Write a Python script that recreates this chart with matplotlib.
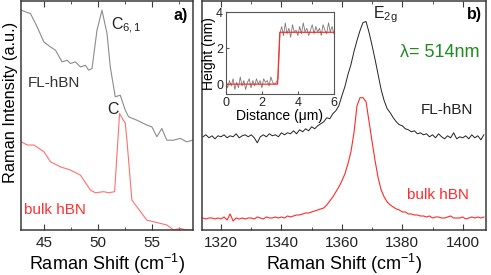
import numpy as np
import matplotlib
matplotlib.use('Agg')
from matplotlib import pyplot as plt
from matplotlib.ticker import MultipleLocator

plt.rcParams['font.family'] = ['Liberation Sans', 'DejaVu Sans']
plt.rcParams['mathtext.fontset'] = 'custom'
plt.rcParams['mathtext.rm'] = 'Liberation Sans'
plt.rcParams['mathtext.it'] = 'Liberation Sans'
plt.rcParams['mathtext.default'] = 'regular'

# ---- panel a) low-frequency shear modes ----
shear_x = [42.91, 43.77, 44.39, 45.0, 45.62, 46.08, 46.69, 47.16, 47.46, 47.92,
           48.39, 48.85, 49.15, 49.46, 49.92, 50.38, 50.85, 51.15, 51.61, 52.07,
           52.54, 52.84, 53.61, 54.53, 55.0, 55.46, 55.92, 56.38, 57.0, 57.62,
           58.23, 58.78]
shear_fl = [95.7, 94.2, 88.4, 81.9, 79.7, 78.3, 73.2, 73.9, 72.5, 73.2,
            71.0, 71.7, 69.6, 70.3, 87.0, 95.7, 85.5, 71.0, 58.0, 58.7,
            52.2, 49.3, 47.8, 45.7, 44.9, 40.6, 44.2, 39.1, 39.1, 39.9,
            38.4, 39.1]
shear_bulk_x = [42.91, 43.47, 44.08, 45.0, 45.62, 46.54, 47.46, 48.39, 49.31, 49.77,
                50.54, 51.0, 51.55, 52.01, 52.54, 52.69, 53.15, 53.61, 54.53, 55.15,
                55.77, 56.38, 57.0, 57.62, 58.23, 58.78]
shear_bulk = [38.4, 37.0, 37.0, 34.1, 29.7, 27.5, 26.1, 23.9, 17.4, 16.2,
              16.7, 16.2, 16.7, 50.7, 46.4, 39.1, 13.0, 10.1, 4.3, 3.6,
              2.9, 2.2, 0.0, 0.7, 0.0, 0.0]

# ---- panel b) E2g mode ----
e2g_x = np.arange(1314, 1408)
e2g_fl = [93, 95, 92, 94, 91, 94, 93, 95, 92, 94,
          93, 96, 92, 94, 95, 93, 95, 92, 87, 93,
          95, 93, 96, 94, 95, 93, 97, 95, 97, 96,
          99, 96, 100, 98, 101, 99, 103, 101, 104, 106,
          108, 112, 111, 116, 119, 124, 134, 143, 155, 165,
          178, 189, 199, 207, 208, 197, 184, 170, 155, 140,
          129, 121, 117, 112, 108, 105, 104, 101, 100, 98,
          99, 96, 97, 95, 96, 93, 95, 92, 96, 93,
          91, 94, 92, 97, 91, 93, 92, 94, 91, 95,
          92, 94, 90, 95]
e2g_bulk = [12, 11, 12, 12, 11, 12, 11, 13, 10, 16,
            9, 12, 11, 12, 11, 12, 12, 11, 13, 12,
            11, 13, 12, 12, 13, 12, 13, 12, 14, 13,
            14, 15, 15, 16, 17, 17, 18, 19, 20, 21,
            22, 25, 29, 33, 38, 43, 49, 56, 66, 78,
            97, 124, 132, 132, 128, 108, 88, 69, 52, 40,
            33, 28, 25, 23, 21, 20, 18, 18, 16, 16,
            15, 15, 14, 14, 13, 14, 12, 13, 13, 12,
            12, 13, 14, 12, 12, 12, 13, 11, 12, 13,
            12, 13, 12, 13]

# ---- inset: AFM height profile ----
afm_x = np.round(np.arange(0, 6.01, 0.1), 2)
afm_h = [0.1, -0.2, 0.2, -0.1, 0.3, -0.3, 0.1, -0.2, 0.4, -0.1,
         0.2, -0.3, 0.1, 0.3, -0.2, 0.2, -0.1, 0.3, 0.0, 0.2,
         -0.2, 0.3, 0.1, 0.2, -0.1, 0.4, 0.1, 0.0, 0.1, 0.3,
         2.8, 3.2, 2.7, 3.4, 2.8, 3.1, 2.6, 3.3, 2.9, 3.0,
         2.7, 3.2, 2.8, 3.4, 2.9, 3.1, 2.7, 3.0, 3.3, 2.8,
         3.2, 2.9, 3.1, 2.7, 3.3, 3.0, 2.8, 3.4, 2.9, 3.2,
         2.8]
fit_x = [0, 2.87, 3.0, 6]
fit_h = [0, 0, 2.88, 2.88]

FRAME = '#3a3a3a'


def style_axes(ax, lw=1.1):
    for sp in ax.spines.values():
        sp.set_color(FRAME)
        sp.set_linewidth(lw)
    ax.tick_params(which='both', direction='in', top=True, left=False,
                   labelleft=False, colors=FRAME, labelcolor='#222222',
                   labelsize=11, pad=4)
    ax.tick_params(which='major', length=4)
    ax.tick_params(which='minor', length=2.5)


fig = plt.figure(figsize=(4.91, 2.75), dpi=100)

# panel a)
ax1 = fig.add_axes([0.043, 0.1636, 0.350, 0.831])
ax1.plot(shear_x, shear_fl, color='#8c8c8c', lw=0.8)
ax1.plot(shear_bulk_x, shear_bulk, color='#ff7070', lw=0.8)
ax1.set_xlim(42.9, 58.8)
ax1.set_ylim(0, 99.5)
ax1.xaxis.set_major_locator(MultipleLocator(5))
ax1.xaxis.set_minor_locator(MultipleLocator(2.5))
style_axes(ax1)
ax1.set_xlabel('Raman Shift (cm$^{-1}$)', fontsize=13, labelpad=2)
ax1.set_ylabel('Raman Intensity (a.u.)', fontsize=11.8)
ax1.yaxis.set_label_coords(-0.02, 0.56)
ax1.text(51.2, 89, 'C$_{6,1}$', fontsize=11.5, color='#222222', ha='left', va='center')
ax1.text(58.3, 93.5, 'a)', fontsize=11.5, fontweight='bold', ha='right', va='center')
ax1.text(43.5, 64, 'FL-hBN', fontsize=11, color='#333333', ha='left', va='center')
ax1.text(51.4, 52.5, 'C', fontsize=11.5, color='#222222', ha='center', va='center')
ax1.text(43.2, 8.5, 'bulk hBN', fontsize=11, color='#ff3030', ha='left', va='center')

# panel b)
ax2 = fig.add_axes([0.4114, 0.1636, 0.5784, 0.831])
ax2.plot(e2g_x, e2g_fl, color='#222222', lw=0.7)
ax2.plot(e2g_x, e2g_bulk, color='#ff2a2a', lw=0.8)
ax2.set_xlim(1313.7, 1407.7)
ax2.set_ylim(0, 228)
ax2.xaxis.set_major_locator(MultipleLocator(20))
ax2.xaxis.set_minor_locator(MultipleLocator(10))
style_axes(ax2)
ax2.set_xlabel('Raman Shift (cm$^{-1}$)', fontsize=13, labelpad=2)
ax2.text(1370.3, 215, 'E$_{2g}$', fontsize=11.5, color='#222222', ha='left', va='center')
ax2.text(1406.5, 215, 'b)', fontsize=11.5, fontweight='bold', ha='right', va='center')
ax2.text(1405.5, 177, '\u03bb= 514nm', fontsize=13, color='#1e8c1e', ha='right', va='center')
ax2.text(1403.5, 120, 'FL-hBN', fontsize=11, color='#222222', ha='right', va='center')
ax2.text(1402, 35, 'bulk hBN', fontsize=11, color='#ff2a2a', ha='right', va='center')

# inset
ax3 = fig.add_axes([0.460, 0.658, 0.220, 0.298])
ax3.plot(afm_x, afm_h, color='#7a7a7a', lw=0.6)
ax3.plot(fit_x, fit_h, color='#ff2a2a', lw=0.9)
ax3.set_xlim(0, 6)
ax3.set_ylim(-0.55, 4)
ax3.set_xticks([0, 2, 4, 6])
ax3.set_yticks([0, 2, 4])
for sp in ax3.spines.values():
    sp.set_color('#555555')
    sp.set_linewidth(0.8)
ax3.tick_params(direction='in', length=2.5, labelsize=9, pad=2,
                colors='#555555', labelcolor='#222222')
ax3.set_xlabel('Distance (\u03bcm)', fontsize=10, labelpad=0)
ax3.set_ylabel('Height (nm)', fontsize=10, labelpad=0)

fig.savefig('out.png', dpi=100)
